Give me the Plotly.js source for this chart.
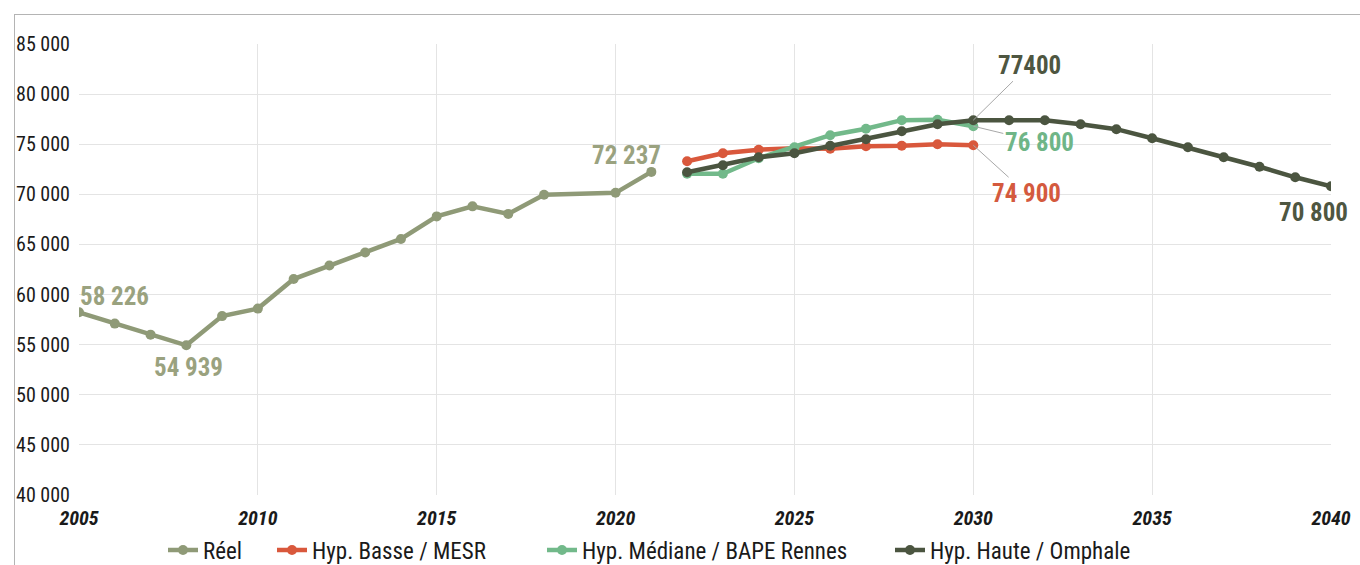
<!DOCTYPE html>
<html>
<head>
<meta charset="utf-8">
<script src="https://cdn.plot.ly/plotly-3.0.1.min.js"></script>
<style>
html,body{margin:0;padding:0;background:#fff;}
#wrap{position:relative;width:1360px;height:565px;overflow:hidden;}
#chart{position:absolute;left:0;top:0;width:1360px;height:565px;}
#frame{position:absolute;left:14px;top:14px;width:1400px;height:600px;border-left:1px solid #b4b4b4;border-top:1px solid #b4b4b4;pointer-events:none;}
</style>
</head>
<body>
<div id="wrap"><div id="chart"></div><div id="frame"></div></div>
<script>
const FONT = '"Roboto Condensed","Liberation Sans Narrow","DejaVu Sans Condensed","Roboto",sans-serif';

const reelYears = [2005,2006,2007,2008,2009,2010,2011,2012,2013,2014,2015,2016,2017,2018,2020,2021];
const reelValues = [58226,57100,56000,54939,57850,58600,61550,62900,64200,65550,67800,68800,68050,69950,70150,72237];

const projYears = [2022,2023,2024,2025,2026,2027,2028,2029,2030];
const basseValues = [73300,74100,74450,74600,74550,74800,74850,75000,74900];
const medianeValues = [72050,72050,73600,74700,75900,76550,77400,77450,76800];

const hauteYears = [2022,2023,2024,2025,2026,2027,2028,2029,2030,2031,2032,2033,2034,2035,2036,2037,2038,2039,2040];
const hauteValues = [72200,72900,73700,74100,74850,75500,76300,77000,77400,77400,77400,77000,76500,75600,74700,73700,72750,71700,70800];

const seriesNames = ['Réel','Hyp. Basse / MESR','Hyp. Médiane / BAPE Rennes','Hyp. Haute / Omphale'];
const colors = ['#8f9a77','#d9583c','#72b98a','#4b5540'];
const legendIds = ['legend','legend2','legend3','legend4'];
const legendTextStart = [203, 312, 582, 930];

function tr(i, x, y){
  return {x:x, y:y, name:seriesNames[i], type:'scatter', mode:'lines+markers', legend:legendIds[i],
    line:{color:colors[i], width:4.5}, marker:{color:colors[i], size:10}};
}

const data = [
  tr(0, reelYears, reelValues),
  tr(1, projYears, basseValues),
  tr(2, projYears, medianeValues),
  tr(3, hauteYears, hauteValues)
];

const labFont = (c)=>({family:FONT, size:25, color:c, weight:'bold'});

const annotations = [
  {x:2005, y:reelValues[0], text:'58 226', showarrow:false, xanchor:'left', yanchor:'middle', xshift:-1, yshift:16, font:labFont('#9aa27f')},
  {x:2008, y:reelValues[3], text:'54 939', showarrow:false, xanchor:'center', yanchor:'middle', xshift:2, yshift:-22, font:labFont('#9aa27f')},
  {x:2021, y:reelValues[reelValues.length-1], text:'72 237', showarrow:false, xanchor:'right', yanchor:'middle', xshift:12, yshift:16, font:labFont('#9aa27f')},
  {x:2030, y:hauteValues[8], text:'77400', showarrow:true, arrowhead:0, arrowwidth:1, arrowcolor:'#a8a8a8', ax:56, ay:-55, font:labFont('#4e5641')},
  {x:2030, y:medianeValues[8], text:'76 800', showarrow:true, arrowhead:0, arrowwidth:1, arrowcolor:'#a8a8a8', ax:66, ay:16, font:labFont('#6fb587')},
  {x:2030, y:basseValues[8], text:'74 900', showarrow:true, arrowhead:0, arrowwidth:1, arrowcolor:'#a8a8a8', ax:53, ay:48, font:labFont('#d45a3e')},
  {x:2040, y:hauteValues[hauteValues.length-1], text:'70 800', showarrow:false, xanchor:'right', yanchor:'middle', xshift:19, yshift:-26, font:labFont('#4e5641')}
];

const layout = {
  width:1360, height:565,
  margin:{l:79, r:29, t:44, b:70},
  paper_bgcolor:'#ffffff', plot_bgcolor:'#ffffff',
  separators:', ',
  showlegend:true,
  xaxis:{range:[2005,2040], dtick:5, tick0:2005, showgrid:true, gridcolor:'#e4e4e4', gridwidth:1,
    zeroline:false, showline:false, ticks:'', ticklen:0, ticklabelstandoff:9, automargin:false,
    tickfont:{family:FONT, size:20, color:'#1a1a1a', style:'italic', weight:'bold'}},
  yaxis:{range:[40000,85000], dtick:5000, tickformat:',d', showgrid:true, gridcolor:'#e4e4e4', gridwidth:1,
    zeroline:false, showline:false, ticks:'', ticklen:0, ticklabelstandoff:8, automargin:false,
    tickfont:{family:FONT, size:20, color:'#1a1a1a'}},
  annotations:annotations
};

legendIds.forEach((id, i) => {
  layout[id] = {orientation:'h', xref:'paper', yref:'container',
    x:(legendTextStart[i] - 40 - 79) / 1252, xanchor:'left',
    y:1 - 550/565, yanchor:'middle',
    font:{family:FONT, size:23, color:'#1a1a1a'}, itemwidth:30, bgcolor:'rgba(0,0,0,0)', borderwidth:0};
});

Plotly.newPlot('chart', data, layout, {displayModeBar:false, staticPlot:true});
</script>
</body>
</html>
